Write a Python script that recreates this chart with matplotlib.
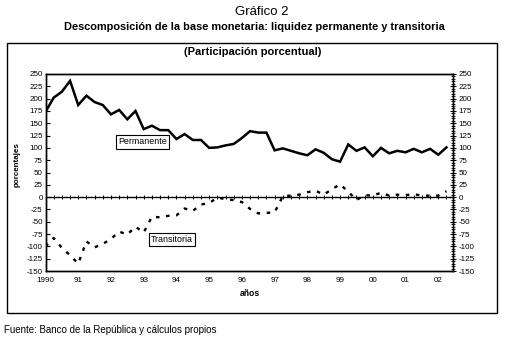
import matplotlib
matplotlib.use("Agg")
import matplotlib.pyplot as plt
import numpy as np
from matplotlib.patches import Rectangle

plt.rcParams['font.family'] = ['Liberation Sans', 'DejaVu Sans']

# Quarterly data 1990Q1 - 2002Q2
permanente = [173, 202, 214, 236, 187, 206, 193, 187, 168, 177,
              158, 175, 138, 145, 136, 136, 118, 128, 116, 116,
              100, 101, 105, 108, 120, 134, 131, 131, 95, 99,
              94, 89, 85, 97, 90, 77, 72, 107, 94, 101,
              83, 100, 89, 94, 91, 98, 91, 98, 86, 101]
transitoria = [-100, -83, -103, -118, -135, -90, -102, -95, -85, -70,
               -76, -60, -72, -40, -41, -38, -37, -23, -28, -15,
               -12, -1, -4, -6, -10, -24, -33, -32, -31, 2,
               3, 5, 10, 13, 5, 16, 26, 11, -6, 4,
               3, 9, 3, 5, 4, 6, 3, 3, 3, 12]
year_labels = ['1990', '91', '92', '93', '94', '95', '96', '97',
               '98', '99', '00', '01', '02']

W, H = 521, 348
fig = plt.figure(figsize=(W / 100, H / 100), dpi=100)

def fx(px):
    return px / W

def fy(py):
    return 1 - py / H

# Titles
fig.text(fx(262), fy(12), 'Gráfico 2', ha='center', va='center', fontsize=9.5)
fig.text(fx(254), fy(27), 'Descomposición de la base monetaria: liquidez permanente y transitoria',
         ha='center', va='center', fontsize=7.9, fontweight='bold')

# Outer frame
fig.patches.append(Rectangle((fx(7), fy(313)), fx(497) - fx(7), fy(43) - fy(313),
                             transform=fig.transFigure, fill=False, lw=1.0,
                             edgecolor='black'))
fig.text(fx(253), fy(52), '(Participación porcentual)', ha='center', va='center',
         fontsize=8, fontweight='bold')

ax = fig.add_axes([fx(45.5), fy(271), fx(453) - fx(45.5), fy(74) - fy(271)])
x = np.arange(len(permanente))
ax.plot(x, permanente, color='black', lw=1.8, solid_joinstyle='miter')
ax.plot(x, transitoria, color='black', lw=1.7, linestyle=(0, (1.5, 2.8)))

ax.set_xlim(0, 49.8)
ax.set_ylim(-150, 250)
yt = np.arange(-150, 251, 25)
ax.set_yticks(yt)
ax.set_yticklabels([str(v) for v in yt])
ax.tick_params(axis='y', direction='in', length=3, width=0.8, labelsize=5.8, pad=2)

# right axis
axr = ax.twinx()
axr.set_ylim(-150, 250)
axr.set_yticks(yt)
axr.set_yticklabels([str(v) for v in yt])
axr.yaxis.set_minor_locator(matplotlib.ticker.MultipleLocator(5))
axr.tick_params(axis='y', which='major', direction='inout', length=4, width=0.8,
                labelsize=5.8, pad=2)
axr.tick_params(axis='y', which='minor', direction='inout', length=2.5, width=0.6)

ax.set_xticks(np.arange(0, len(permanente), 4))
ax.set_xticklabels(year_labels)
ax.tick_params(axis='x', length=0, labelsize=5.8, pad=4)

for a in (ax, axr):
    for s in a.spines.values():
        s.set_linewidth(1.0)

# zero axis with category ticks
sec = ax.secondary_xaxis(150 / 400)
sec.set_xticks(x)
sec.tick_params(axis='x', direction='inout', length=3.5, width=0.7, labelbottom=False,
                labeltop=False)
sec.spines['bottom'].set_linewidth(1.0)

ax.text(8.9, 112, 'Permanente', fontsize=6.4, va='center', ha='left',
        bbox=dict(boxstyle='square,pad=0.25', fc='white', ec='black', lw=0.8))
ax.text(12.9, -86, 'Transitoria', fontsize=6.4, va='center', ha='left',
        bbox=dict(boxstyle='square,pad=0.25', fc='white', ec='black', lw=0.8))

fig.text(fx(17), fy(165), 'porcentajes', rotation=90, ha='center', va='center',
         fontsize=5.8, fontweight='bold')
fig.text(fx(250), fy(294), 'años', ha='center', va='center', fontsize=6.2,
         fontweight='bold')
fig.text(fx(4), fy(330), 'Fuente: Banco de la República y cálculos propios',
         ha='left', va='center', fontsize=7)

fig.savefig('out.png', dpi=100)
